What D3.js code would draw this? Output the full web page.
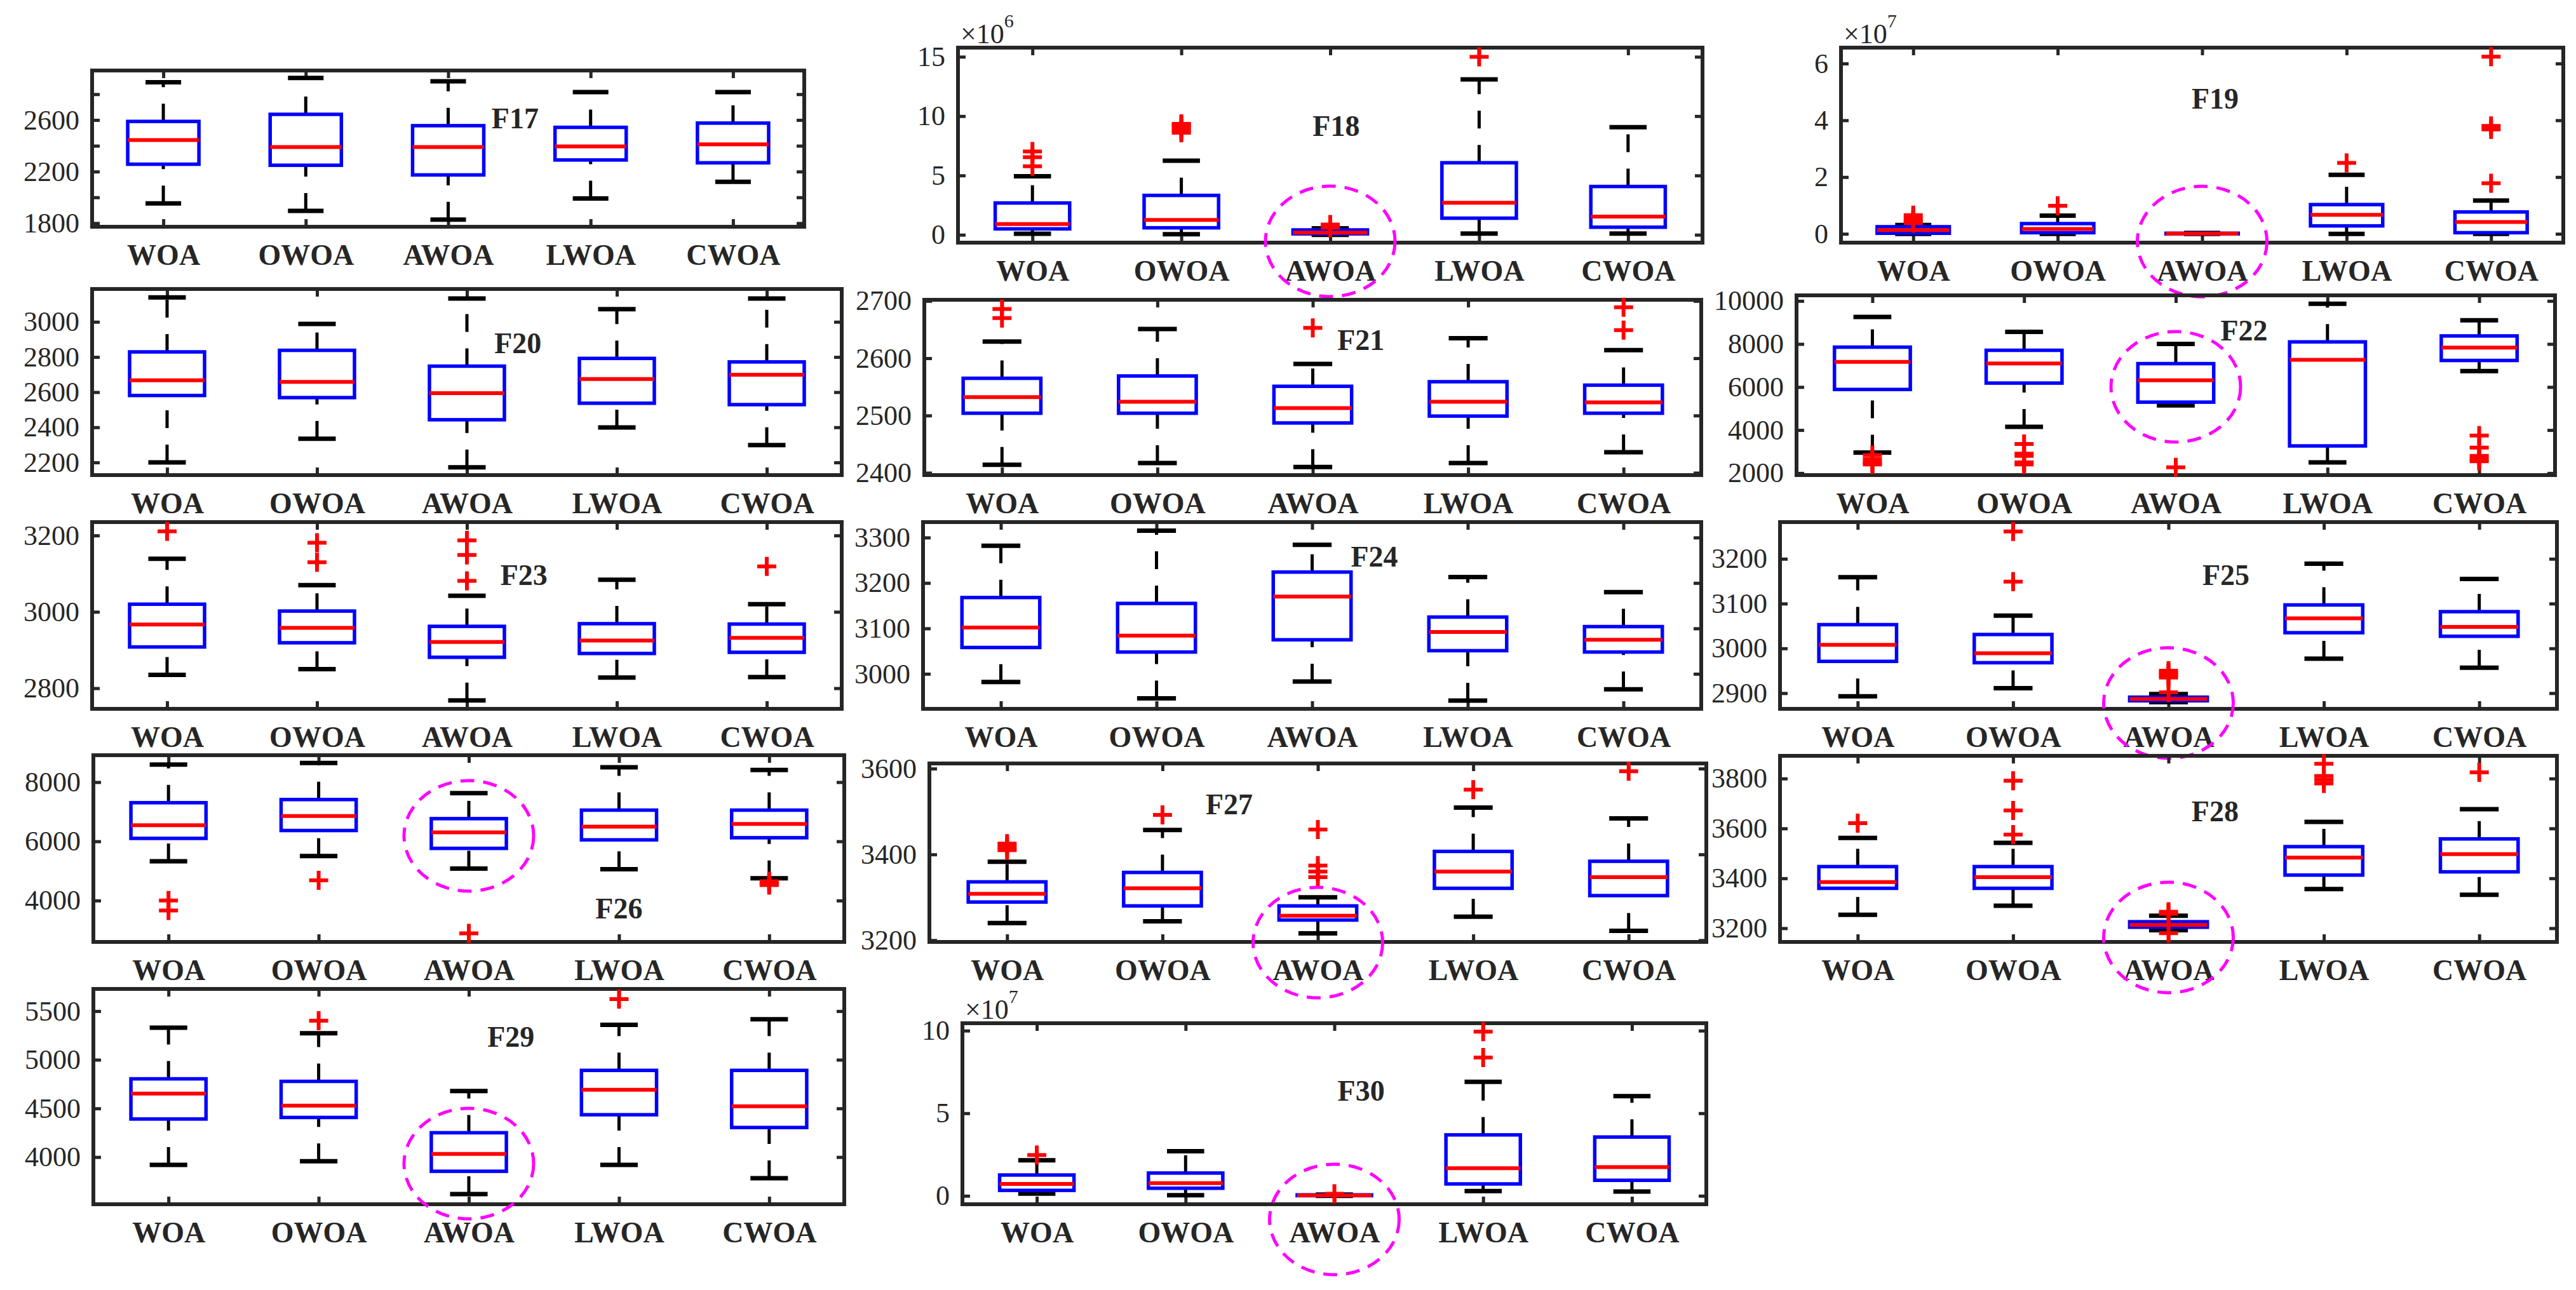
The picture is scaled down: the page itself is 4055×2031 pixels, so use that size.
<!DOCTYPE html>
<html>
<head>
<meta charset="utf-8">
<script src="https://cdn.jsdelivr.net/npm/d3@7"></script>
<style>
  body { margin: 0; background: #fff; }
  text { font-family: "Liberation Serif", "DejaVu Serif", serif; fill: #262626; }
</style>
</head>
<body>
<div id="chart"></div>
<script>
var algorithms = ["WOA", "OWOA", "AWOA", "LWOA", "CWOA"];

// per algorithm: [lower whisker, q1, median, q3, upper whisker, outliers]
var f17 = [[1953, 2257, 2445, 2589, 2893, []], [1895, 2249, 2390, 2644, 2926, []], [1828, 2174, 2390, 2556, 2900, []], [1991, 2290, 2395, 2543, 2817, []], [2121, 2268, 2411, 2576, 2817, []]];
var f18 = [[0.09, 0.5, 0.9, 2.68, 4.93, [5.77, 6.54, 7.02]], [0.05, 0.59, 1.25, 3.32, 6.25, [8.6, 8.8, 9.0, 9.2, 9.35]], [0.0, 0.08, 0.18, 0.41, 0.54, [0.6, 0.7, 0.8, 0.86]], [0.1, 1.4, 2.7, 6.07, 13.1, [15.0]], [0.1, 0.64, 1.54, 4.07, 9.07, []]];
var f19 = [[0.0, 0.02, 0.13, 0.25, 0.31, [0.38, 0.45, 0.55, 0.66]], [0.0, 0.04, 0.17, 0.36, 0.64, [0.99]], [0.0, 0.005, 0.01, 0.02, 0.03, []], [0.0, 0.28, 0.67, 1.03, 2.08, [2.5]], [0.0, 0.04, 0.42, 0.77, 1.17, [1.78, 3.68, 3.8, 6.24]]];
var f20 = [[2200, 2581, 2667, 2829, 3139, []], [2335, 2569, 2658, 2838, 2988, []], [2172, 2443, 2594, 2748, 3133, []], [2399, 2537, 2675, 2792, 3072, []], [2299, 2529, 2699, 2772, 3133, []]];
var f21 = [[2414, 2504, 2532, 2565, 2629, [2670, 2686]], [2417, 2504, 2524, 2569, 2651, []], [2410, 2487, 2513, 2551, 2590, [2653]], [2417, 2499, 2524, 2559, 2635, []], [2436, 2504, 2523, 2553, 2614, [2649, 2689]]];
var f22 = [[2958, 5887, 7165, 7853, 9258, [2400, 2500, 2650, 2840]], [4148, 6183, 7097, 7707, 8562, [2400, 2500, 2800, 2900, 3350]], [5150, 5297, 6310, 7087, 8000, [2270]], [2496, 3263, 7262, 8098, 9867, []], [6743, 7234, 7833, 8374, 9101, [2550, 2650, 2800, 3180, 3745]]];
var f23 = [[2835, 2908, 2967, 3020, 3139, [3211]], [2850, 2919, 2958, 3002, 3070, [3130, 3181]], [2768, 2881, 2921, 2962, 3042, [3081, 3149, 3187]], [2828, 2891, 2925, 2969, 3084, []], [2829, 2894, 2932, 2968, 3020, [3119]]];
var f24 = [[2982, 3058, 3102, 3168, 3282, []], [2946, 3048, 3084, 3155, 3315, []], [2983, 3075, 3170, 3224, 3284, []], [2941, 3051, 3092, 3125, 3213, []], [2966, 3048, 3075, 3104, 3180, []]];
var f25 = [[2893, 2971, 3008, 3053, 3159, []], [2911, 2968, 2989, 3031, 3073, [3149, 3261]], [2880, 2883, 2887, 2891, 2898, [2902, 2935, 2940, 2945, 2950]], [2977, 3035, 3067, 3097, 3189, []], [2957, 3027, 3048, 3082, 3155, []]];
var f26 = [[5326, 6100, 6545, 7305, 8595, [3663, 4000]], [5505, 6366, 6853, 7412, 8645, [4681]], [5082, 5763, 6301, 6767, 7627, [2889]], [5061, 6050, 6495, 7054, 8502, []], [4753, 6122, 6588, 7054, 8409, [4520, 4580, 4650]]];
var f27 = [[3240, 3289, 3308, 3336, 3383, [3410, 3417, 3425]], [3244, 3280, 3321, 3358, 3457, [3492]], [3216, 3247, 3257, 3280, 3300, [3347, 3360, 3374, 3458]], [3255, 3321, 3360, 3407, 3509, [3551]], [3222, 3304, 3347, 3384, 3484, [3594]]];
var f28 = [[3254, 3360, 3385, 3447, 3562, [3621]], [3290, 3360, 3405, 3447, 3542, [3575, 3672, 3791]], [3192, 3204, 3213, 3226, 3250, [3180, 3258, 3266]], [3357, 3413, 3483, 3527, 3626, [3780, 3795, 3810, 3859]], [3334, 3426, 3497, 3558, 3677, [3825]]];
var f29 = [[3920, 4391, 4652, 4804, 5330, []], [3957, 4407, 4528, 4778, 5272, [5402]], [3620, 3854, 4033, 4250, 4678, []], [3920, 4435, 4691, 4891, 5359, [5624]], [3783, 4304, 4522, 4891, 5417, []]];
var f30 = [[0.13, 0.33, 0.72, 1.26, 2.15, [2.47]], [0.04, 0.46, 0.77, 1.38, 2.7, []], [0.0, 0.01, 0.03, 0.06, 0.08, [0.12]], [0.29, 0.72, 1.67, 3.69, 6.9, [8.37, 9.94]], [0.26, 0.94, 1.74, 3.56, 6.04, []]];

// tick values of each y axis
var ticks17 = [1800, 2000, 2200, 2400, 2600, 2800];
var ticks18 = [0, 5, 10, 15];
var ticks19 = [0, 2, 4, 6];
var ticks20 = [2200, 2400, 2600, 2800, 3000];
var ticks21 = [2400, 2500, 2600, 2700];
var ticks22 = [2000, 4000, 6000, 8000, 10000];
var ticks23 = [2800, 3000, 3200];
var ticks24 = [3000, 3100, 3200, 3300];
var ticks25 = [2900, 3000, 3100, 3200];
var ticks26 = [4000, 6000, 8000];
var ticks27 = [3200, 3400, 3600];
var ticks28 = [3200, 3400, 3600, 3800];
var ticks29 = [4000, 4500, 5000, 5500];
var ticks30 = [0, 5, 10];

// panel table: rect = [left, top, right, bottom] in px, title at [x, y] data coords,
// ring = y value of the dashed ellipse round AWOA
var panels = [
    { name: "F17", stats: f17, rect: [145, 111, 1266, 357], domain: [1772, 2984], ticks: ticks17, every: 2, title: [3.47, 2614] },
    { name: "F18", stats: f18, rect: [1508, 75, 2680, 382], domain: [-0.66, 15.77], ticks: ticks18, title: [3.04, 9.19], exp: "6", ring: -0.55 },
    { name: "F19", stats: f19, rect: [2898, 75, 4035, 382], domain: [-0.31, 6.56], ticks: ticks19, title: [3.09, 4.77], exp: "7", ring: -0.27 },
    { name: "F20", stats: f20, rect: [145, 455, 1325, 748], domain: [2128, 3187], ticks: ticks20, title: [3.34, 2880] },
    { name: "F21", stats: f21, rect: [1455, 472, 2678, 748], domain: [2396, 2702], ticks: ticks21, title: [3.31, 2632] },
    { name: "F22", stats: f22, rect: [2828, 465, 4022, 748], domain: [1907, 10260], ticks: ticks22, title: [3.45, 8638], ring: 6010 },
    { name: "F23", stats: f23, rect: [145, 822, 1325, 1116], domain: [2746, 3235], ticks: ticks23, title: [3.38, 3097] },
    { name: "F24", stats: f24, rect: [1453, 822, 2678, 1116], domain: [2923, 3334], ticks: ticks24, title: [3.40, 3258] },
    { name: "F25", stats: f25, rect: [2802, 822, 4025, 1116], domain: [2865, 3282], ticks: ticks25, title: [3.37, 3164], ring: 2878 },
    { name: "F26", stats: f26, rect: [147, 1189, 1329, 1483], domain: [2602, 8910], ticks: ticks26, title: [4.00, 3739], ring: 6186 },
    { name: "F27", stats: f27, rect: [1463, 1202, 2686, 1483], domain: [3196, 3612], ticks: ticks27, title: [2.43, 3517], ring: 3194.5 },
    { name: "F28", stats: f28, rect: [2802, 1190, 4025, 1483], domain: [3145, 3891], ticks: ticks28, title: [3.30, 3670], ring: 3163 },
    { name: "F29", stats: f29, rect: [147, 1557, 1329, 1896], domain: [3515, 5728], ticks: ticks29, title: [3.28, 5238], ring: 3933 },
    { name: "F30", stats: f30, rect: [1515, 1611, 2686, 1896], domain: [-0.51, 10.45], ticks: ticks30, title: [3.18, 6.37], exp: "7", ring: -1.43 }
];

var axisColor = "#262626";

var svg = d3.select("#chart").append("svg")
    .attr("width", 4055).attr("height", 2031)
    .style("background", "#fff");

panels.forEach(function (p) { drawPanel(p); });

function drawPanel(p) {
    var x = d3.scaleLinear().domain([0.5, 5.5]).range([p.rect[0], p.rect[2]]);
    var y = d3.scaleLinear().domain(p.domain).range([p.rect[3], p.rect[1]]);
    var g = svg.append("g");
    var tickLen = 12;

    // axes, ticks pointing inward on all four sides
    var left = d3.axisLeft(y).tickValues(p.ticks).tickSize(-tickLen).tickSizeOuter(0).tickPadding(20)
        .tickFormat(function (d, i) { return (p.every && i % p.every) ? "" : d; });
    var right = d3.axisRight(y).tickValues(p.ticks).tickSize(-tickLen).tickSizeOuter(0).tickFormat("");
    var top = d3.axisTop(x).tickValues([1, 2, 3, 4, 5]).tickSize(-tickLen).tickSizeOuter(0).tickFormat("");
    var bottom = d3.axisBottom(x).tickValues([1, 2, 3, 4, 5]).tickSize(-tickLen).tickSizeOuter(0).tickPadding(27)
        .tickFormat(function (d) { return algorithms[d - 1]; });

    var axes = [
        g.append("g").attr("transform", "translate(" + p.rect[0] + ",0)").call(left),
        g.append("g").attr("transform", "translate(" + p.rect[2] + ",0)").call(right),
        g.append("g").attr("transform", "translate(0," + p.rect[1] + ")").call(top),
        g.append("g").attr("transform", "translate(0," + p.rect[3] + ")").call(bottom)
    ];
    axes.forEach(function (a) {
        a.select(".domain").remove();
        a.selectAll(".tick line").attr("stroke", axisColor).attr("stroke-width", 5);
        a.selectAll(".tick text").attr("fill", axisColor).style("font-size", "44px");
    });
    axes[3].selectAll(".tick text").style("font-size", "46px").style("font-weight", "bold");

    g.append("rect")
        .attr("x", p.rect[0]).attr("y", p.rect[1])
        .attr("width", p.rect[2] - p.rect[0]).attr("height", p.rect[3] - p.rect[1])
        .attr("fill", "none").attr("stroke", axisColor).attr("stroke-width", 6);

    // boxes
    var boxes = g.selectAll(".box").data(p.stats).enter().append("g").attr("class", "box");
    var bw = 0.25, cw = 0.125;

    boxes.each(function (s, i) {
        var b = d3.select(this), c = i + 1;
        // whiskers (dashed), drawn from low value upward
        [[s[3], s[4]], [s[0], s[1]]].forEach(function (w) {
            b.append("line")
                .attr("x1", x(c)).attr("x2", x(c))
                .attr("y1", y(w[0])).attr("y2", y(w[1]))
                .attr("stroke", "#000").attr("stroke-width", 5)
                .attr("stroke-dasharray", "28 26");
        });
        [s[0], s[4]].forEach(function (v) {
            b.append("line")
                .attr("x1", x(c - cw)).attr("x2", x(c + cw))
                .attr("y1", y(v)).attr("y2", y(v))
                .attr("stroke", "#000").attr("stroke-width", 7);
        });
        b.append("rect")
            .attr("x", x(c - bw)).attr("y", y(s[3]))
            .attr("width", x(c + bw) - x(c - bw))
            .attr("height", Math.max(1, y(s[1]) - y(s[3])))
            .attr("fill", "none").attr("stroke", "#0000ff").attr("stroke-width", 5.5);
        b.append("line")
            .attr("x1", x(c - bw)).attr("x2", x(c + bw))
            .attr("y1", y(s[2])).attr("y2", y(s[2]))
            .attr("stroke", "#ff0000").attr("stroke-width", 6);
        s[5].forEach(function (o) {
            var px = x(c), py = y(o), m = 15;
            b.append("path")
                .attr("d", "M" + (px - m) + "," + py + "H" + (px + m) + "M" + px + "," + (py - m) + "V" + (py + m))
                .attr("stroke", "#ff0000").attr("stroke-width", 6).attr("fill", "none");
        });
    });

    // panel title
    g.append("text")
        .attr("x", x(p.title[0])).attr("y", y(p.title[1]))
        .attr("dy", "0.35em").attr("text-anchor", "middle")
        .style("font-size", "46px").style("font-weight", "bold").attr("fill", "#000")
        .text(p.name);

    // exponent label
    if (p.exp) {
        var t = g.append("text")
            .attr("x", p.rect[0] + 4).attr("y", p.rect[1] - 7)
            .style("font-size", "44px");
        t.append("tspan").text("\u00d710");
        t.append("tspan").attr("dy", -25).style("font-size", "30px").text(p.exp);
    }

    // dashed ring round AWOA
    if (p.ring !== undefined) {
        g.append("ellipse")
            .attr("cx", x(3)).attr("cy", y(p.ring))
            .attr("rx", 102).attr("ry", 87)
            .attr("fill", "none").attr("stroke", "#ff00ff")
            .attr("stroke-width", 5).attr("stroke-dasharray", "22 14");
    }
}
</script>
</body>
</html>
